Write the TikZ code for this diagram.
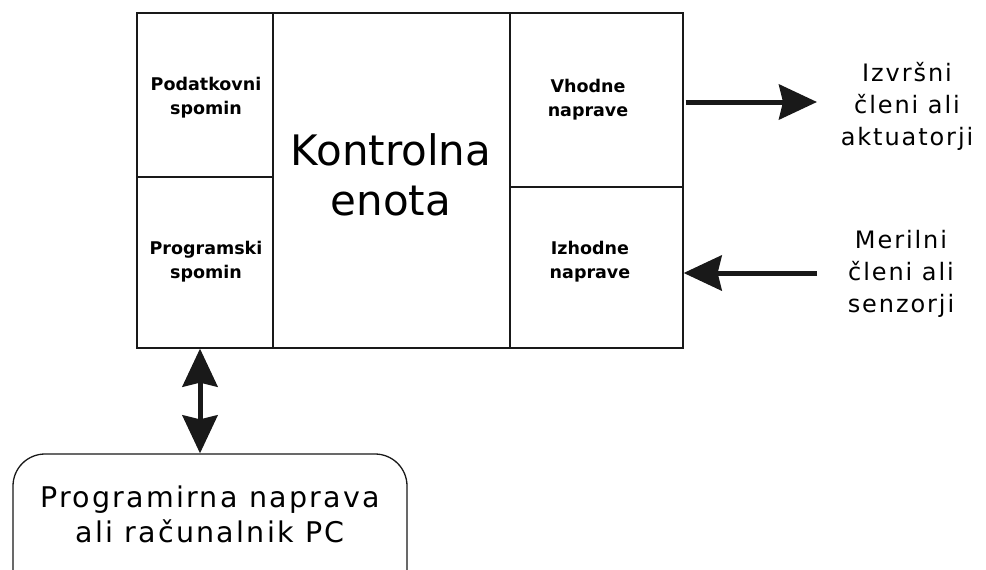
\documentclass[tikz,border=0pt]{standalone}
\usepackage{fontspec}
\setmainfont{DejaVu Sans}
\newfontfamily\widefont[LetterSpace=8]{DejaVu Sans}
\usetikzlibrary{arrows.meta,calc}

\begin{document}
\begin{tikzpicture}[x=1pt,y=1pt,
  cell/.style={draw=black!90, line width=1.3pt, inner sep=0pt},
  smalllabel/.style={font=\fontsize{17.5}{24}\selectfont\bfseries, align=center, anchor=base, inner sep=0pt},
  sidelabel/.style={font=\widefont\fontsize{24}{32}\selectfont, align=center, anchor=base, inner sep=0pt},
  bigarrow/.style={line width=5pt, black!90, -{Stealth[length=38pt,width=35pt,inset=4pt]}},
  dblarrow/.style={line width=5pt, black!90, {Stealth[length=38pt,width=35pt,inset=4pt]}-{Stealth[length=38pt,width=35pt,inset=4pt]}}
]
\clip (0,0) rectangle (986,-570);

% controller cells
\node[cell, minimum width=136pt, minimum height=164pt] (pod)   at (205,-95) {};
\node[cell, minimum width=136pt, minimum height=171pt] (prog)  at (205,-262.5) {};
\node[cell, minimum width=237pt, minimum height=335pt] (ctrl)  at (391.5,-180.5) {};
\node[cell, minimum width=173pt, minimum height=174pt] (vhod)  at (596.5,-100) {};
\node[cell, minimum width=173pt, minimum height=161pt] (izhod) at (596.5,-267.5) {};

% cell captions (anchored at the baseline of their last line)
\node[smalllabel] (podt)   at (206,-114) {Podatkovni\\spomin};
\node[smalllabel] (progt)  at (206,-278) {Programski\\spomin};
\node[smalllabel] (vhodt)  at (588,-116) {Vhodne\\naprave};
\node[smalllabel] (izhodt) at (590,-278) {Izhodne\\naprave};
\node[font=\fontsize{42}{50}\selectfont, align=center, anchor=base, inner sep=0pt] (ctrlt) at (391,-215) {Kontrolna\\enota};

% actuators and sensors
\node[sidelabel] (act) at (907,-145) {Izvršni\\členi ali\\aktuatorji};
\node[sidelabel] (sen) at (901,-312) {Merilni\\členi ali\\senzorji};
\coordinate (actin)  at (817,-102);
\coordinate (senout) at (817,-273);
\draw[bigarrow] (vhod.east |- actin) ++(2,0) -- (actin);
\draw[bigarrow] (senout) -- (izhod.east |- senout);

% programming device
\node[cell, rounded corners=32pt, minimum width=394pt, minimum height=200pt] (pc) at (210,-554) {};
\node[font=\widefont\fontsize{28.5}{35}\selectfont, align=center, anchor=base, inner sep=0pt] (pct) at (210,-542) {Programirna naprava\\ali računalnik PC};
\coordinate (link) at (200,-400);
\draw[dblarrow] (link |- prog.south) -- (link |- pc.north);
\end{tikzpicture}
\end{document}
